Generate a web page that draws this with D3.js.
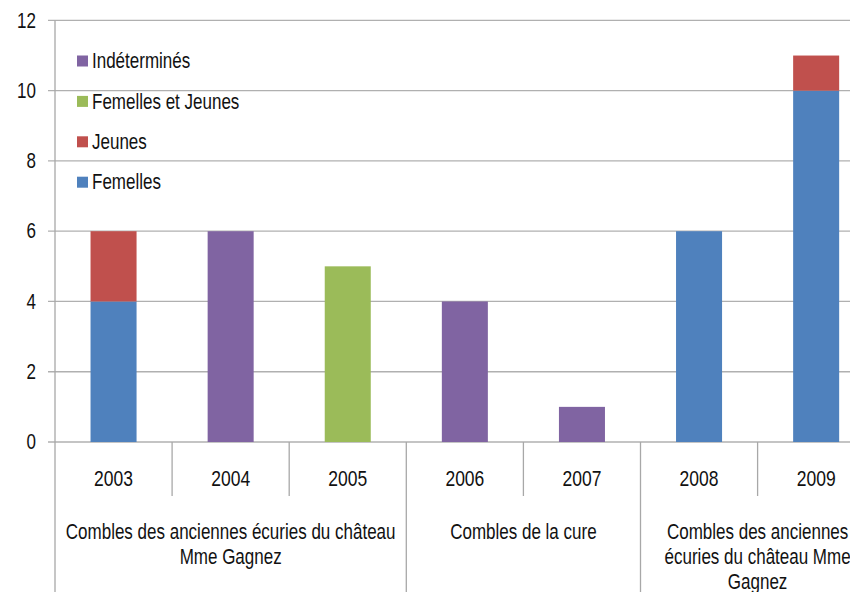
<!DOCTYPE html>
<html>
<head>
<meta charset="utf-8">
<script src="https://cdn.jsdelivr.net/npm/d3@7"></script>
<style>
  html, body { margin: 0; padding: 0; background: #fff; }
  svg { display: block; }
  text { font-family: "Liberation Sans", Arial, sans-serif; fill: #111; }
</style>
</head>
<body>
<svg id="chart" width="850" height="592"></svg>
<script>
// Years on the category axis
const years = ["2003", "2004", "2005", "2006", "2007", "2008", "2009"];
// Roost groups spanning the years
const groupNames = [
  ["Combles des anciennes écuries du château", "Mme Gagnez"],
  ["Combles de la cure"],
  ["Combles des anciennes", "écuries du château Mme", "Gagnez"]
];
const groupSpans = [[0, 3], [3, 5], [5, 7]];
// Series, in stacking order (bottom first)
const seriesNames = ["Femelles", "Jeunes", "Femelles et Jeunes", "Indéterminés"];
const seriesColors = ["#4F81BD", "#C0504D", "#9BBB59", "#8064A2"];
const femelles        = [4, 0, 0, 0, 0, 6, 10];
const jeunes          = [2, 0, 0, 0, 0, 0, 1];
const femellesJeunes  = [0, 0, 5, 0, 0, 0, 0];
const indetermines    = [0, 6, 0, 4, 1, 0, 0];
const yTicks = [0, 2, 4, 6, 8, 10, 12];

const svg = d3.select("#chart");
const plotLeft = 55, step = 117.1, plotTop = 20.4, plotBottom = 442;
const x = d3.scaleBand().domain(years).range([plotLeft, plotLeft + step * years.length]).padding(0);
const y = d3.scaleLinear().domain([0, 12]).range([plotBottom, plotTop]);
const barW = x.bandwidth() * 0.393;

const rows = years.map((yr, i) => ({
  year: yr,
  "Femelles": femelles[i],
  "Jeunes": jeunes[i],
  "Femelles et Jeunes": femellesJeunes[i],
  "Indéterminés": indetermines[i]
}));
const stacked = d3.stack().keys(seriesNames)(rows);

const stretch = "scale(1,1.25)";
function label(g, tx, ty, str, anchor, size) {
  g.append("text")
    .attr("transform", `translate(${tx},${ty}) ${stretch}`)
    .attr("text-anchor", anchor)
    .attr("dominant-baseline", "central")
    .style("font-size", size + "px")
    .text(str);
}

// Horizontal gridlines and y ticks
const grid = svg.append("g");
yTicks.forEach(t => {
  grid.append("line")
    .attr("x1", plotLeft - 7).attr("x2", 850)
    .attr("y1", y(t)).attr("y2", y(t))
    .attr("stroke", "#b0b0b0").attr("stroke-width", 1.3);
  label(grid, 36, y(t), String(t), "end", 17);
});

// Y axis line extends down through the category area
svg.append("line")
  .attr("x1", plotLeft).attr("x2", plotLeft).attr("y1", plotTop).attr("y2", 592)
  .attr("stroke", "#a8a8a8").attr("stroke-width", 1.3);

// Stacked bars
svg.append("g").selectAll("g").data(stacked).join("g")
  .attr("fill", (d, i) => seriesColors[i])
  .selectAll("rect").data(d => d.filter(s => s[1] - s[0] > 0)).join("rect")
  .attr("x", d => x(d.data.year) + (x.bandwidth() - barW) / 2)
  .attr("width", barW)
  .attr("y", d => y(d[1]))
  .attr("height", d => y(d[0]) - y(d[1]));

// Category separators: year level and group level
const axisG = svg.append("g");
years.forEach((yr, i) => {
  if (i === 0) return;
  const isGroupEdge = groupSpans.some(s => s[0] === i);
  axisG.append("line")
    .attr("x1", x(yr)).attr("x2", x(yr))
    .attr("y1", plotBottom).attr("y2", isGroupEdge ? 592 : 496)
    .attr("stroke", "#a8a8a8").attr("stroke-width", 1.3);
});
years.forEach(yr => label(axisG, x(yr) + x.bandwidth() / 2, 478, yr, "middle", 17.5));

groupSpans.forEach((s, gi) => {
  const cx = (x(years[s[0]]) + x(years[s[1] - 1]) + x.bandwidth()) / 2;
  groupNames[gi].forEach((line, li) => label(axisG, cx, 531.5 + li * 25, line, "middle", 17));
});

// Legend (top series listed first)
const legend = svg.append("g");
seriesNames.slice().reverse().forEach((name, i) => {
  const cy = 61 + i * 40.4;
  legend.append("rect")
    .attr("x", 77).attr("y", cy - 5.5).attr("width", 11).attr("height", 11)
    .attr("fill", seriesColors[seriesNames.indexOf(name)]);
  label(legend, 92, cy, name, "start", 17);
});
</script>
</body>
</html>
